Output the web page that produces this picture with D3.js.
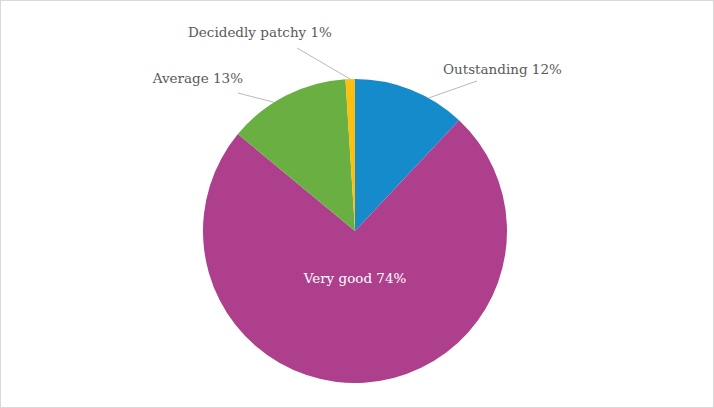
<!DOCTYPE html>
<html><head><meta charset="utf-8">
<script src="https://cdn.jsdelivr.net/npm/d3@7"></script>
<style>
html,body{margin:0;padding:0;background:#fff;}
svg{display:block;}
</style></head>
<body>
<svg id="chart" width="714" height="408"></svg>
<script>
const categories = ["Outstanding", "Very good", "Average", "Decidedly patchy"];
const values = [12, 74, 13, 1];
const colors = ["#168BCC", "#AE3F8C", "#6AAF42", "#FDC010"];

const W = 714, H = 408;
const cx = 355, cy = 231, R = 152;
const svg = d3.select("#chart");
svg.append("rect").attr("x",0.5).attr("y",0.5).attr("width",W-1).attr("height",H-1)
  .attr("fill","#fff").attr("stroke","#d9d9d9");

const data = categories.map((c,i)=>({cat:c, value:values[i], color:colors[i]}));
const pie = d3.pie().sort(null).value(d=>d.value);
const arcs = pie(data);
const arc = d3.arc().innerRadius(0).outerRadius(R);
const g = svg.append("g").attr("transform",`translate(${cx},${cy})`);
g.selectAll("path").data(arcs).enter().append("path")
  .attr("d",arc).attr("fill",d=>d.data.color);

const font = "'DejaVu Serif', Georgia, serif";
const fs = 13.5;
// label layout: fraction within slice for leader start, label anchor point (relative to center)
const layout = {
  "Outstanding": {frac:0.67, lx:88, ly:-157, anchor:"start", lineEnd:[122,-150]},
  "Average": {frac:0.39, lx:-112, ly:-148, anchor:"end", lineEnd:[-117,-138]},
  "Decidedly patchy": {frac:0.5, lx:-95, ly:-194, anchor:"middle", lineEnd:[-58,-183]}
};
const pt = (a, r) => [r*Math.sin(a), -r*Math.cos(a)];
arcs.forEach(d=>{
  const txt = `${d.data.cat} ${d.data.value}%`;
  const L = layout[d.data.cat];
  if (!L) {
    g.append("text").attr("x",0).attr("y",52).attr("text-anchor","middle")
      .attr("font-family",font).attr("font-size",fs).attr("fill","#fff").text(txt);
    return;
  }
  const a = d.startAngle + (d.endAngle-d.startAngle)*L.frac;
  const s = pt(a, R);
  g.append("line").attr("x1",s[0]).attr("y1",s[1]).attr("x2",L.lineEnd[0]).attr("y2",L.lineEnd[1])
    .attr("stroke","#a6a6a6").attr("stroke-width",0.8);
  g.append("text").attr("x",L.lx).attr("y",L.ly).attr("text-anchor",L.anchor)
    .attr("font-family",font).attr("font-size",fs).attr("fill","#595959").text(txt);
});
</script>
</body></html>
